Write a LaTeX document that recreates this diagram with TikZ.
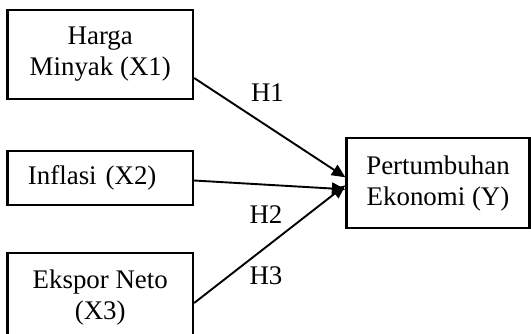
\documentclass[tikz,border=0pt]{standalone}
\usepackage{fontspec}
\setmainfont{Liberation Serif}
\usetikzlibrary{arrows.meta}

\begin{document}
\begin{tikzpicture}[
		v/.style = {rectangle,	draw=black,	line width=0.045cm,	minimum width=3.71cm,	align=center,	font=\fontsize{15.3}{17.6}\selectfont},
		l/.style = {inner sep=0pt,	font=\fontsize{15.3}{17.6}\selectfont},
		r/.style = {-{Triangle[length=0.27cm, width=0.24cm]}, line width=0.038cm}
		]
		
		\useasboundingbox (0, 0) rectangle (10.62, -6.66);
		
		%Nodes
		\node[v, minimum height=1.78cm]	(x1)	at	(2.005, -1.09)	{Harga\\Minyak (X1)};
		\node[v, minimum height=1.09cm, text width=2.89cm, align=left, inner xsep=0.41cm]	(x2)	at	(2.005, -3.56)	{Inflasi (X2)};
		\node[v, minimum height=1.78cm]	(x3)	at	(2.005, -5.95)	{Ekspor Neto\\(X3)};
		
		\node[v, minimum width=3.66cm, minimum height=1.80cm]	(y)	at	(8.76, -3.666)	{Pertumbuhan\\Ekonomi (Y)};
		
		\node[l]	(h1)	at	(5.35, -1.85)	{H1};
		\node[l]	(h2)	at	(5.32, -4.30)	{H2};
		\node[l]	(h3)	at	(5.32, -5.52)	{H3};
		
		%Lines
		\draw[r]	([yshift=-0.47cm]x1.east)	to	([yshift=0.12cm]y.west);
		\draw[r]	([yshift=-0.05cm]x2.east)	to	([yshift=-0.12cm]y.west);
		\draw[r]	([yshift=-0.11cm]x3.east)	to	([yshift=-0.04cm]y.west);
	\end{tikzpicture}
\end{document}
